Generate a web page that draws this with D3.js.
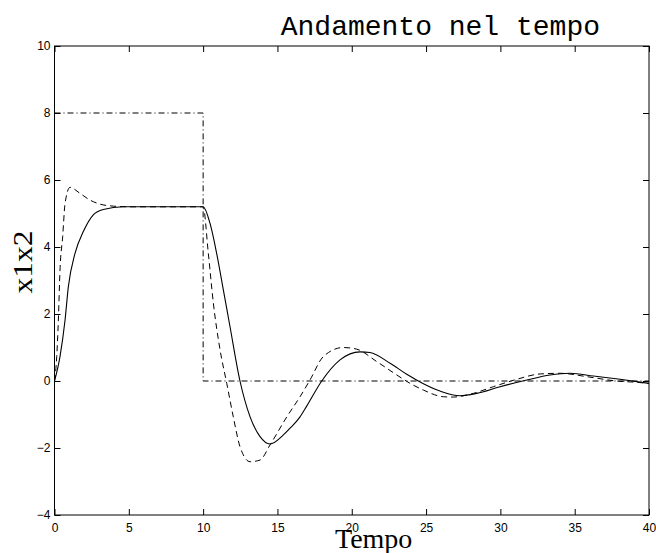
<!DOCTYPE html>
<html>
<head>
<meta charset="utf-8">
<script src="https://cdn.jsdelivr.net/npm/d3@7"></script>
<style>
  body { margin: 0; background: #fff; }
  .tick text { font-family: "Liberation Sans", Arial, sans-serif; font-size: 12px; fill: #000; }
  .tick line { stroke: #000; }
</style>
</head>
<body>
<div id="chart"></div>
<script>
// reference signal (dash-dot)
var refTime = [0, 10, 10, 40];
var refValues = [8, 8, 0, 0];

// x1 (solid)
var x1Time = [0, 0.37, 0.71, 0.93, 1.38, 1.94, 2.61, 3.28, 4.63, 6, 8, 10, 10.46, 10.91, 11.36, 11.81, 12.48, 13.16, 13.83, 14.5, 15.4, 15.85, 16.52, 16.97, 17.98, 19.21, 20.56, 21.23, 22.58, 23.7, 24.82, 25.94, 27.29, 28.41, 29.98, 31.78, 33.34, 34.69, 36.26, 38.05, 40];
var x1Values = [0, 0.73, 1.82, 2.81, 3.81, 4.46, 4.96, 5.12, 5.2, 5.2, 5.2, 5.2, 4.71, 3.81, 2.72, 1.62, 0, -1.07, -1.66, -1.88, -1.61, -1.41, -1.07, -0.75, 0, 0.63, 0.87, 0.85, 0.53, 0.2, -0.08, -0.3, -0.44, -0.37, -0.17, 0.03, 0.18, 0.23, 0.15, 0.05, -0.07];

// x2 (dashed)
var x2Time = [0, 0.15, 0.26, 0.37, 0.55, 0.71, 1.04, 1.72, 2.39, 3.06, 3.96, 5, 8, 10, 10.35, 10.69, 11.14, 11.59, 12.03, 12.48, 13.16, 13.83, 14.5, 15.63, 16.52, 17.19, 18.09, 19.43, 20.34, 21.68, 23.03, 23.92, 24.82, 26.16, 26.84, 27.51, 28.18, 29.53, 31.1, 32.67, 34.02, 35.81, 37.6, 39.85, 40];
var x2Values = [0, 0.73, 1.82, 3.31, 4.31, 5.3, 5.78, 5.6, 5.4, 5.28, 5.22, 5.2, 5.2, 5.2, 3.81, 2.32, 0.93, -0.07, -1.07, -1.96, -2.41, -2.36, -1.91, -1.07, -0.47, 0.03, 0.73, 1.0, 0.95, 0.58, 0.18, -0.07, -0.27, -0.47, -0.48, -0.44, -0.37, -0.17, 0.05, 0.21, 0.23, 0.13, 0.01, -0.07, -0.08];

var xTicks = [0, 5, 10, 15, 20, 25, 30, 35, 40];
var yTicks = [-4, -2, 0, 2, 4, 6, 8, 10];

function init() {
    var W = 656, H = 553;
    var left = 54.5, right = 649, top = 46, bottom = 515;

    var svg = d3.select("#chart")
        .append("svg")
        .attr("width", W)
        .attr("height", H);

    var x = d3.scaleLinear().domain([0, 40]).range([left, right]);
    var y = d3.scaleLinear().domain([-4, 10]).range([bottom, top]);

    // axes with inward ticks, labels only bottom and left
    svg.append("g")
        .attr("transform", "translate(0," + bottom + ")")
        .call(d3.axisBottom(x).tickValues(xTicks).tickSizeInner(-6).tickSizeOuter(0).tickPadding(8))
        .call(function (g) { g.select(".domain").remove(); });

    svg.append("g")
        .attr("transform", "translate(0," + top + ")")
        .call(d3.axisTop(x).tickValues(xTicks).tickSizeInner(-6).tickSizeOuter(0).tickFormat(""))
        .call(function (g) { g.select(".domain").remove(); });

    svg.append("g")
        .attr("transform", "translate(" + left + ",0)")
        .call(d3.axisLeft(y).tickValues(yTicks).tickSizeInner(-6).tickSizeOuter(0).tickPadding(4))
        .call(function (g) { g.select(".domain").remove(); });

    svg.append("g")
        .attr("transform", "translate(" + right + ",0)")
        .call(d3.axisRight(y).tickValues(yTicks).tickSizeInner(-6).tickSizeOuter(0).tickFormat(""))
        .call(function (g) { g.select(".domain").remove(); });

    // frame
    svg.append("rect")
        .attr("x", left)
        .attr("y", top)
        .attr("width", right - left)
        .attr("height", bottom - top)
        .attr("fill", "none")
        .attr("stroke", "#000")
        .attr("stroke-width", 1);

    var line = d3.line()
        .x(function (d) { return x(d[0]); })
        .y(function (d) { return y(d[1]); });

    var smooth = d3.line()
        .x(function (d) { return x(d[0]); })
        .y(function (d) { return y(d[1]); })
        .curve(d3.curveMonotoneX);

    svg.append("path")
        .datum(d3.zip(refTime, refValues))
        .attr("d", line)
        .attr("fill", "none")
        .attr("stroke", "#000")
        .attr("stroke-width", 1)
        .attr("stroke-dasharray", "6,3,1,3");

    svg.append("path")
        .datum(d3.zip(x2Time, x2Values))
        .attr("d", smooth)
        .attr("fill", "none")
        .attr("stroke", "#000")
        .attr("stroke-width", 1)
        .attr("stroke-dasharray", "6,4");

    svg.append("path")
        .datum(d3.zip(x1Time, x1Values))
        .attr("d", smooth)
        .attr("fill", "none")
        .attr("stroke", "#000")
        .attr("stroke-width", 1.1);

    // title and axis labels
    svg.append("text")
        .attr("x", 600)
        .attr("y", 35)
        .attr("text-anchor", "end")
        .style("font-family", "'Liberation Mono', 'Courier New', monospace")
        .style("font-size", "28px")
        .text("Andamento nel tempo");

    svg.append("text")
        .attr("x", 335)
        .attr("y", 548)
        .style("font-family", "'Liberation Serif', 'Times New Roman', serif")
        .style("font-size", "28px")
        .text("Tempo");

    svg.append("text")
        .attr("transform", "translate(32,262) rotate(-90)")
        .attr("text-anchor", "middle")
        .attr("textLength", 63)
        .attr("lengthAdjust", "spacingAndGlyphs")
        .style("font-family", "'Liberation Serif', 'Times New Roman', serif")
        .style("font-size", "28px")
        .text("x1x2");
}

window.onload = init;
</script>
</body>
</html>
